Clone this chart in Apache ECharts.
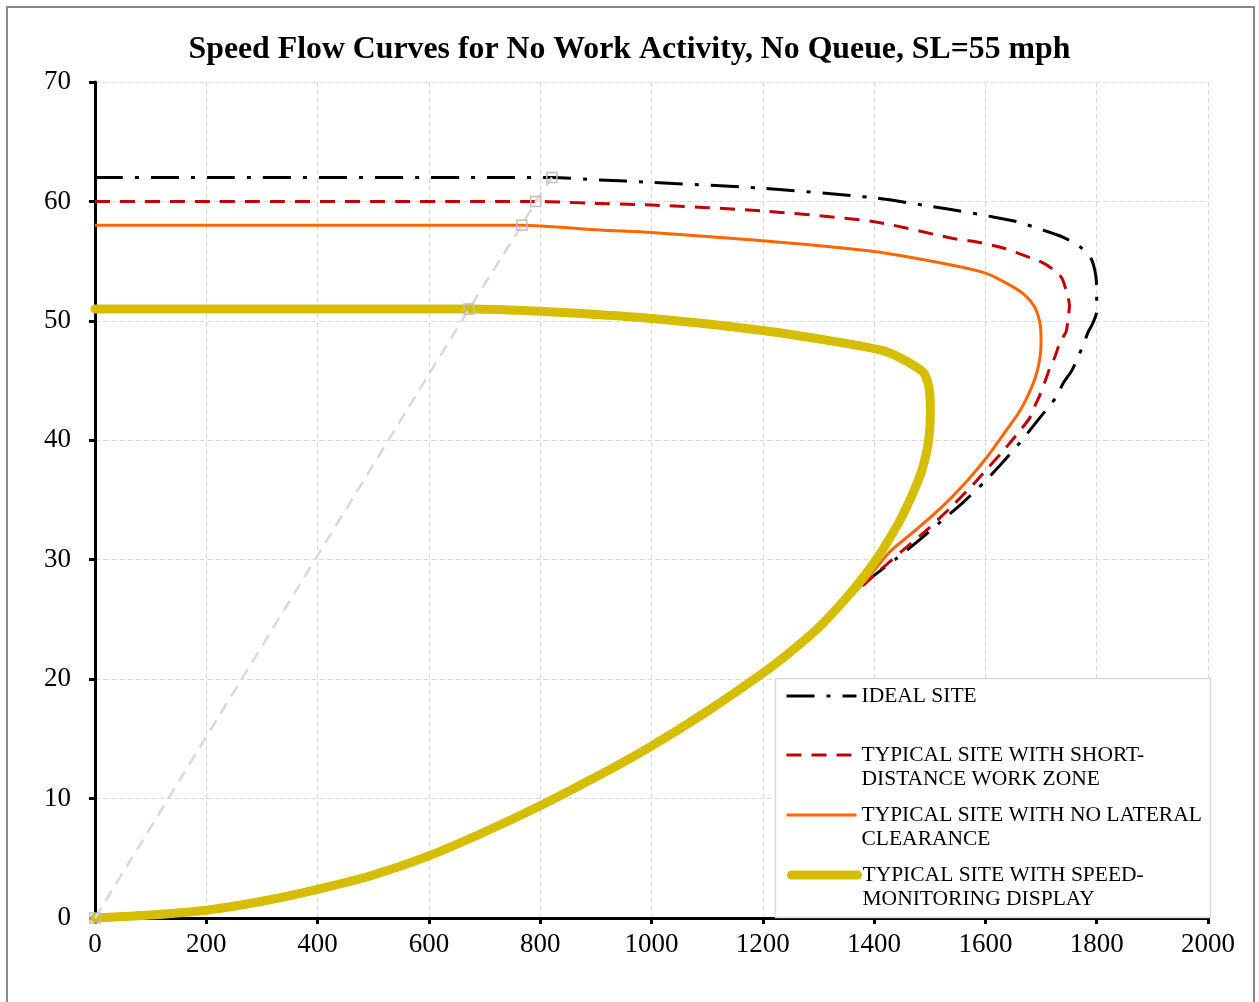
<!DOCTYPE html>
<html><head><meta charset="utf-8">
<script src="https://cdn.jsdelivr.net/npm/echarts@6/dist/echarts.min.js"></script>
<style>html,body{margin:0;padding:0;background:#fff}#c{width:1259px;height:1002px}</style>
</head><body><div id="c"></div>
<script>
const TITLE = 'Speed Flow Curves for No Work Activity, No Queue, SL=55 mph';
const X_MIN = 0, X_MAX = 2000, X_STEP = 200;
const Y_MIN = 0, Y_MAX = 70, Y_STEP = 10;

const NAMES = [
  'IDEAL SITE',
  'TYPICAL SITE WITH SHORT-DISTANCE WORK ZONE',
  'TYPICAL SITE WITH NO LATERAL CLEARANCE',
  'TYPICAL SITE WITH SPEED-MONITORING DISPLAY'
];
const LEGEND_LINES = [
  ['IDEAL SITE'],
  ['TYPICAL SITE WITH SHORT-', 'DISTANCE WORK ZONE'],
  ['TYPICAL SITE WITH NO LATERAL', 'CLEARANCE'],
  ['TYPICAL SITE WITH SPEED-', 'MONITORING DISPLAY']
];

// [flow (veh/h/ln), speed (mph)] — uncongested branch and nose of each curve
const IDEAL_UPPER = [[0,62],[821,62],[907,61.8],[1000,61.6],[1200,61.1],[1400,60.3],[1500,59.6],[1554,59.2],[1602,58.8],[1657,58.3],[1703,57.6],[1740,57.0],[1770,56.2],[1790,55.2],[1798,53.9],[1800,52.6],[1800,50.8],[1793,49.8],[1785,49.1],[1776,48.0],[1756,45.9],[1740,44.8],[1727,43.6],[1698,41.9],[1662,39.8],[1632,38.2],[1600,36.6],[1560,34.8],[1520,33.2],[1480,31.6],[1440,30.1],[1398,28.6]];
const WORKZONE_UPPER = [[0,60],[792,60],[836,59.95],[889,59.85],[1000,59.7],[1200,59.2],[1400,58.3],[1542,56.9],[1585,56.6],[1632,56.1],[1680,55.3],[1702,54.9],[1722,54.3],[1737,53.6],[1746,52.4],[1751,51.3],[1749,50.3],[1745,49.1],[1734,48.2],[1725,47.0],[1716,46.1],[1710,45.3],[1698,43.8],[1690,43.0],[1680,41.9],[1655,40.4],[1630,39.0],[1603,37.6],[1578,36.3],[1536,34.3],[1495,32.5],[1452,30.8],[1410,29.1]];
const LATERAL_UPPER = [[0,58],[767,58],[907,57.6],[1000,57.4],[1200,56.7],[1400,55.8],[1536,54.7],[1600,54.0],[1640,53.1],[1670,52.2],[1688,51.2],[1698,49.8],[1700,48.3],[1698,46.9],[1690,45.3],[1677,43.8],[1660,42.3],[1640,41.0],[1603,38.6],[1567,36.6],[1519,34.3],[1470,32.3],[1429,30.7],[1398,29.0],[1370,27.5]];
const DISPLAY_UPPER = [[0,51],[672,51],[800,50.8],[1000,50.2],[1200,49.2],[1339,48.2],[1416,47.5],[1447,46.9],[1477,46.1],[1490,45.6],[1499,44.3],[1501,42.5],[1498,40.0],[1486,37.5],[1470,35.6],[1450,33.6],[1428,31.8],[1405,30.1],[1380,28.5],[1350,26.8]];
// shared congested branch
const LOWER = [[1398,28.6],[1350,26.6],[1300,24.3],[1250,22.3],[1200,20.5],[1100,17.3],[1000,14.4],[900,11.8],[800,9.4],[700,7.2],[600,5.2],[500,3.6],[400,2.4],[300,1.4],[200,0.65],[100,0.25],[0,0]];
// breakpoint (density) line
const BREAKPOINTS = [[0,0],[672,51],[767,58],[792,60],[821,62]];

function withLower(upper){
  const lastX = upper[upper.length-1][0];
  return upper.concat(LOWER.filter(p => p[0] < lastX - 15));
}

const FONT = "'Liberation Serif','Times New Roman',serif";
const chart = echarts.init(document.getElementById('c'), null, {renderer:'canvas'});

const STYLES = [
  {color:'#000', width:3, type:[28,12,4,12], cap:'butt'},
  {color:'#c00000', width:3, type:[15,10], cap:'butt'},
  {color:'#ff6600', width:3, type:'solid', cap:'butt'},
  {color:'#d5be00', width:9, type:'solid', cap:'round'}
];

const legendTops = [684, 719, 779, 839];
const legendLefts = [785, 785, 785, 787];
const legendWidths = [70, 70, 70, 66];
const legends = NAMES.map((n, i) => ({
  data: [n],
  orient: 'vertical',
  left: legendLefts[i], top: legendTops[i],
  padding: 0,
  itemWidth: legendWidths[i], itemHeight: 14,
  selectedMode: false,
  z: 5,
  itemStyle: {opacity: 0, borderWidth: 0},
  lineStyle: {width: STYLES[i].width, type: STYLES[i].type, color: STYLES[i].color, cap: STYLES[i].cap},
  textStyle: {fontFamily: FONT, fontSize: 21.5, color: '#000', lineHeight: 24},
  formatter: name => {
    const lines = LEGEND_LINES[NAMES.indexOf(name)];
    return lines.length > 1 ? '\n' + lines.join('\n') : lines[0];
  }
}));

const DATA = [IDEAL_UPPER, WORKZONE_UPPER, LATERAL_UPPER, DISPLAY_UPPER];
const curveSeries = NAMES.map((n, i) => ({
  type:'line', name:n, data:withLower(DATA[i]), showSymbol:false, symbol:'none',
  smooth:0.25, z:2, animation:false, color:STYLES[i].color,
  lineStyle:{color:STYLES[i].color, width:STYLES[i].width, type:STYLES[i].type, cap:STYLES[i].cap, join:'round'}
}));

chart.setOption({
  animation: false,
  backgroundColor: '#fff',
  title: {text: TITLE, left: 'center', top: 29,
    textStyle: {fontFamily: FONT, fontSize: 31.8, fontWeight: 'bold', color: '#000'}},
  grid: {left: 95, right: 51, top: 82, bottom: 84},
  legend: legends,
  graphic: [
    {type:'rect', silent:true, z:0, shape:{x:7, y:7, width:1247, height:1010}, style:{fill:'none', stroke:'#888', lineWidth:2}},
    {type:'rect', silent:true, z:3, shape:{x:775.5, y:678.5, width:435, height:239}, style:{fill:'#fff', stroke:'#d9d9d9', lineWidth:1.5}}
  ],
  xAxis: {type:'value', min:X_MIN, max:X_MAX, interval:X_STEP,
    axisLine:{show:true, lineStyle:{color:'#000', width:3}},
    axisTick:{show:true, length:6, lineStyle:{color:'#000', width:3}},
    axisLabel:{color:'#000', fontFamily:FONT, fontSize:27, margin:13, formatter: v => String(v)},
    splitLine:{show:true, lineStyle:{color:'#d9d9d9', width:1, type:[5,3]}}},
  yAxis: {type:'value', min:Y_MIN, max:Y_MAX, interval:Y_STEP,
    axisLine:{show:true, lineStyle:{color:'#000', width:3}},
    axisTick:{show:true, length:6, lineStyle:{color:'#000', width:3}},
    axisLabel:{color:'#000', fontFamily:FONT, fontSize:27, margin:24, formatter: v => String(v)},
    splitLine:{show:true, lineStyle:{color:'#d9d9d9', width:1, type:[5,3]}}},
  series: curveSeries.concat([
    {type:'line', name:'breakpoints', data:BREAKPOINTS, z:3, animation:false,
      symbol:'rect', symbolSize:10, showSymbol:true,
      lineStyle:{color:'#d9d9d9', width:2.5, type:[12,8]},
      itemStyle:{color:'rgba(0,0,0,0)', borderColor:'#bfbfbf', borderWidth:1.5}}
  ])
});
</script></body></html>
